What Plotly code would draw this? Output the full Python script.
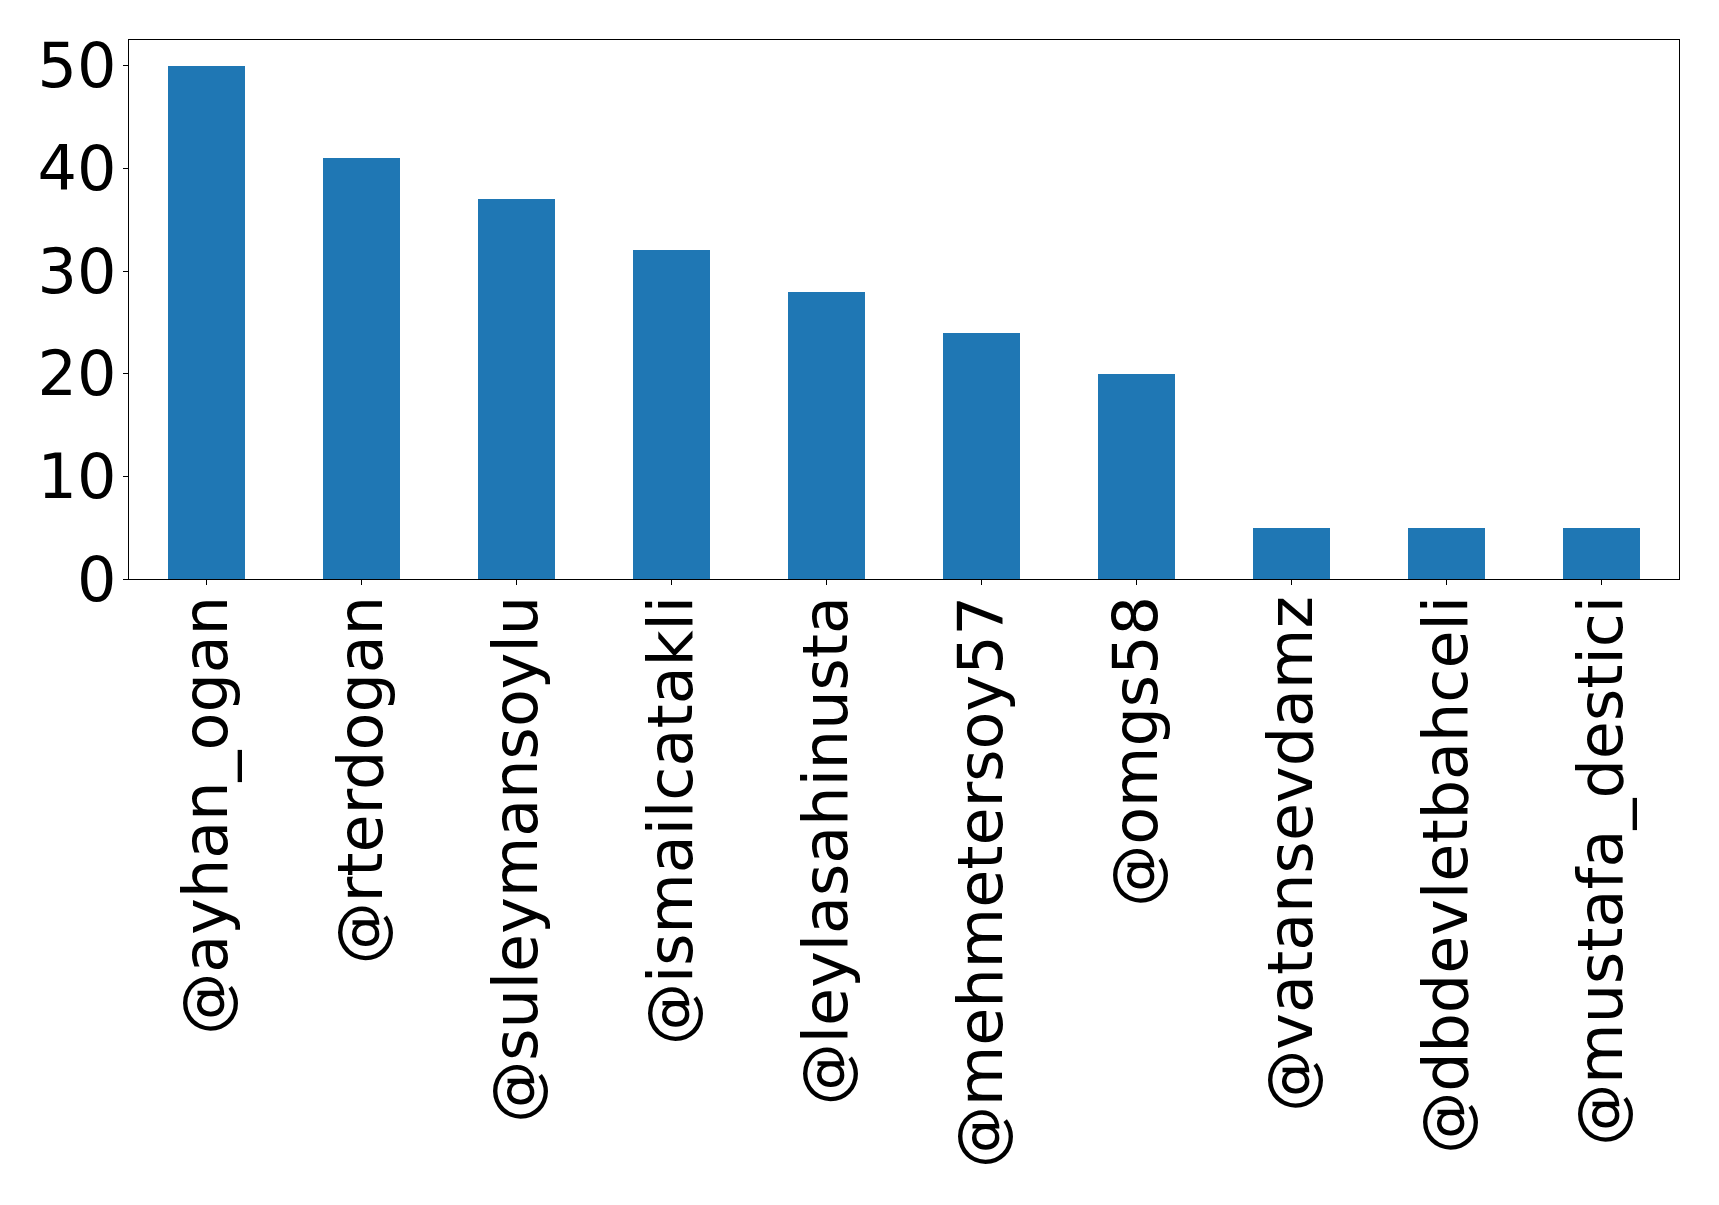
import plotly.graph_objects as go

categories = ["@ayhan_ogan", "@rterdogan", "@suleymansoylu", "@ismailcatakli",
              "@leylasahinusta", "@mehmetersoy57", "@omgs58", "@vatansevdamz",
              "@dbdevletbahceli", "@mustafa_destici"]
values = [50, 41, 37, 32, 28, 24, 20, 5, 5, 5]
y_ticks = [0, 10, 20, 30, 40, 50]

fig = go.Figure(go.Bar(x=list(range(len(categories))), y=values,
                       width=0.5, marker=dict(color="#1f77b4", line=dict(width=0))))

font = dict(family="DejaVu Sans", size=62, color="black")
fig.update_layout(
    width=1703, height=1189,
    margin=dict(l=121, r=32, t=32, b=618, autoexpand=False),
    paper_bgcolor="white", plot_bgcolor="white",
    showlegend=False, font=font, bargap=0,
)
fig.update_xaxes(
    range=[-0.5, len(categories) - 0.5],
    tickmode="array", tickvals=list(range(len(categories))), ticktext=categories,
    tickangle=-90, ticks="outside", ticklen=5, tickwidth=1, tickcolor="black",
    showline=True, linecolor="black", linewidth=1.3, mirror=True,
    showgrid=False, zeroline=False, tickfont=font, ticklabelstandoff=-14,
)
fig.update_yaxes(
    range=[0, 52.5], tickmode="array", tickvals=y_ticks,
    ticks="outside", ticklen=5, tickwidth=1, tickcolor="black",
    showline=True, linecolor="black", linewidth=1.3, mirror=True,
    showgrid=False, zeroline=False, tickfont=font, ticklabelstandoff=-6,
)
fig.write_html("out.html")
